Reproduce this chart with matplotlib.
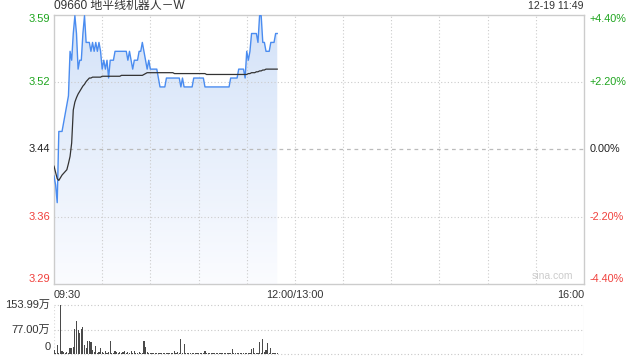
import matplotlib
matplotlib.use('Agg')
import matplotlib.pyplot as plt
import numpy as np
from matplotlib.colors import LinearSegmentedColormap
from matplotlib.transforms import blended_transform_factory

plt.rcParams['font.family'] = ['Liberation Sans', 'Noto Sans CJK SC', 'DejaVu Sans']

# data (one value per minute from 09:30)
title = '09660 地平线机器人－W'
stamp = '12-19 11:49'
prev_close = 3.44

price = [
    3.41, 3.40, 3.38, 3.46, 3.46, 3.46, 3.47, 3.48, 3.49, 3.50,
    3.55, 3.54, 3.57, 3.59, 3.57, 3.53, 3.54, 3.54, 3.57, 3.59,
    3.56, 3.56, 3.56, 3.55, 3.56, 3.55, 3.56, 3.55, 3.56, 3.55,
    3.53, 3.54, 3.53, 3.54, 3.52, 3.54, 3.54, 3.54, 3.55, 3.55,
    3.55, 3.55, 3.55, 3.55, 3.55, 3.55, 3.54, 3.55, 3.54, 3.53,
    3.54, 3.54, 3.54, 3.55, 3.55, 3.56, 3.55, 3.54, 3.53, 3.54,
    3.53, 3.53, 3.53, 3.53, 3.53, 3.52, 3.51, 3.51, 3.51, 3.51,
    3.52, 3.52, 3.52, 3.52, 3.52, 3.52, 3.52, 3.52, 3.52, 3.51,
    3.52, 3.51, 3.51, 3.51, 3.51, 3.51, 3.51, 3.52, 3.52, 3.52,
    3.52, 3.52, 3.52, 3.52, 3.51, 3.51, 3.51, 3.51, 3.51, 3.51,
    3.51, 3.51, 3.51, 3.51, 3.51, 3.51, 3.51, 3.51, 3.51, 3.51,
    3.52, 3.52, 3.52, 3.52, 3.52, 3.53, 3.53, 3.53, 3.53, 3.52,
    3.55, 3.54, 3.55, 3.57, 3.57, 3.57, 3.57, 3.56, 3.59, 3.59,
    3.56, 3.56, 3.55, 3.55, 3.55, 3.56, 3.56, 3.56, 3.57, 3.57,
]

avg_price = [
    3.421, 3.414, 3.407, 3.405, 3.408, 3.411, 3.413, 3.415, 3.417, 3.424,
    3.432, 3.447, 3.484, 3.493, 3.498, 3.502, 3.505, 3.508, 3.511, 3.513,
    3.516, 3.518, 3.520, 3.520, 3.521, 3.521, 3.521, 3.521, 3.521, 3.521,
    3.522, 3.522, 3.522, 3.522, 3.522, 3.522, 3.522, 3.522, 3.522, 3.522,
    3.522, 3.522, 3.523, 3.523, 3.523, 3.523, 3.523, 3.523, 3.523, 3.523,
    3.523, 3.523, 3.523, 3.523, 3.523, 3.523, 3.524, 3.525, 3.526, 3.526,
    3.526, 3.526, 3.526, 3.526, 3.526, 3.526, 3.526, 3.526, 3.526, 3.526,
    3.526, 3.526, 3.526, 3.526, 3.526, 3.525, 3.525, 3.525, 3.525, 3.525,
    3.525, 3.525, 3.525, 3.525, 3.525, 3.525, 3.525, 3.525, 3.525, 3.525,
    3.525, 3.525, 3.525, 3.525, 3.525, 3.524, 3.524, 3.524, 3.524, 3.524,
    3.524, 3.524, 3.524, 3.524, 3.524, 3.524, 3.524, 3.524, 3.524, 3.524,
    3.524, 3.524, 3.524, 3.524, 3.524, 3.524, 3.524, 3.524, 3.524, 3.524,
    3.524, 3.525, 3.525, 3.526, 3.526, 3.526, 3.527, 3.527, 3.528, 3.528,
    3.529, 3.529, 3.530, 3.530, 3.530, 3.530, 3.530, 3.530, 3.530, 3.530,
]

# volume in 万 shares
volume = [
    12, 3, 28, 4, 154, 9, 5, 2, 7, 2,
    20, 18, 23, 80, 104, 75, 65, 78, 86, 28,
    18, 41, 41, 39, 13, 5, 25, 4, 5, 20,
    6, 4, 8, 4, 6, 41, 4, 4, 8, 6,
    4, 6, 2, 6, 8, 2, 6, 2, 8, 4,
    8, 4, 2, 6, 4, 2, 41, 23, 6, 4,
    3, 2, 4, 2, 3, 2, 4, 3, 2, 3,
    2, 3, 2, 4, 2, 9, 3, 6, 2, 47,
    4, 31, 3, 2, 3, 2, 3, 2, 2, 3,
    2, 3, 2, 2, 9, 3, 2, 3, 2, 2,
    3, 2, 2, 3, 2, 2, 3, 2, 2, 3,
    2, 16, 2, 3, 2, 3, 2, 2, 3, 2,
    3, 2, 2, 16, 20, 2, 3, 3, 37, 3,
    47, 7, 12, 33, 3, 18, 3, 2, 2, 2,
]
vol_max = 153.99

pct_levels = [0.044, 0.022, 0.0, -0.022, -0.044]
price_labels = ['3.59', '3.52', '3.44', '3.36', '3.29']
pct_labels = ['+4.40%', '+2.20%', '0.00%', '-2.20%', '-4.40%']
x_labels = ['09:30', '12:00/13:00', '16:00']

total_minutes = 330
minutes = np.arange(len(price))
green = '#1ea51e'
red = '#f0403c'
label_colors = [green, green, '#222222', red, red]

fig = plt.figure(figsize=(6.4, 3.6), dpi=100)
ax = fig.add_axes([54 / 640, 76 / 360, 530 / 640, 269.5 / 360])
axv = fig.add_axes([54 / 640, 6 / 360, 530 / 640, 49 / 360])

ymin = prev_close * (1 - 0.044)
ymax = prev_close * (1 + 0.044)

# gradient fill under the price line
fill = ax.fill_between(minutes, price, ymin, color='none', lw=0)
cmap = LinearSegmentedColormap.from_list('g', ['#fbfcff', '#d3e2f8'])
grad = np.linspace(1, 0, 256).reshape(-1, 1)
im = ax.imshow(grad, extent=[0, len(price) - 1, ymin, ymax], aspect='auto',
               cmap=cmap, vmin=0, vmax=1, zorder=1)
im.set_clip_path(fill.get_paths()[0], transform=ax.transData)

ax.plot(minutes, price, color='#4a8cf0', lw=1.0, zorder=3)
ax.plot(minutes, avg_price, color='#333333', lw=0.9, zorder=4)

ax.set_xlim(0, total_minutes)
ax.set_ylim(ymin, ymax)

for m in range(30, total_minutes, 30):
    ax.axvline(m, color='#cccccc', lw=0.8, ls=(0, (1, 2)), zorder=2)
for p in [0.022, -0.022]:
    ax.axhline(prev_close * (1 + p), color='#cccccc', lw=0.8, ls=(0, (1, 2)), zorder=2)
ax.axhline(prev_close, color='#bbbbbb', lw=0.9, ls=(0, (3, 3)), zorder=2)

for s in ax.spines.values():
    s.set_color('#cccccc')
    s.set_linewidth(1)
ax.set_xticks([])
ax.set_yticks([])

# axis labels
tl = blended_transform_factory(ax.transAxes, ax.transData)
for p, lab, pl, c in zip(pct_levels, price_labels, pct_labels, label_colors):
    y = prev_close * (1 + p)
    va = 'center'
    if p == 0.044:
        va = 'top'
    elif p == -0.044:
        va = 'bottom'
    ax.text(-0.007, y, lab, transform=tl, ha='right', va=va, color=c, fontsize=8)
    ax.text(1.011, y, pl, transform=tl, ha='left', va=va, color=c, fontsize=7.8)

ax.text(0.0, 1.01, title, transform=ax.transAxes, ha='left', va='bottom',
        color='#333333', fontsize=8.6)
ax.text(1.0, 1.012, stamp, transform=ax.transAxes, ha='right', va='bottom',
        color='#333333', fontsize=7.6)
ax.text(0.0, -0.022, x_labels[0], transform=ax.transAxes, ha='left', va='top',
        color='#333333', fontsize=7.8)
ax.text(150 / total_minutes, -0.022, x_labels[1], transform=ax.transAxes,
        ha='center', va='top', color='#333333', fontsize=7.8)
ax.text(1.0, -0.022, x_labels[2], transform=ax.transAxes, ha='right', va='top',
        color='#333333', fontsize=7.8)
ax.text(0.94, 0.012, 'sina.com', transform=ax.transAxes, ha='center', va='bottom',
        color='#cccccc', fontsize=7.5)

# volume panel
axv.bar(minutes, volume, width=0.7, color='#4a4a4a', zorder=3)
axv.set_xlim(0, total_minutes)
axv.set_ylim(0, vol_max)
for v in [vol_max, vol_max / 2, 0]:
    axv.axhline(v, color='#c8c8c8', lw=0.8, ls=(0, (1, 2)), zorder=1, clip_on=False)
for s in axv.spines.values():
    s.set_visible(False)
axv.axvline(0, color='#d8d8d8', lw=0.8, ls=(0, (1, 2)))
axv.axvline(total_minutes, color='#d8d8d8', lw=0.8)
axv.set_xticks([])
axv.set_yticks([])
tv = blended_transform_factory(axv.transAxes, axv.transData)
axv.text(-0.007, vol_max, '153.99万', transform=tv, ha='right', va='center',
         color='#333333', fontsize=8)
axv.text(-0.007, vol_max / 2, '77.00万', transform=tv, ha='right', va='center',
         color='#333333', fontsize=8)
axv.text(-0.007, 6, '0', transform=tv, ha='right', va='bottom',
         color='#333333', fontsize=8)

fig.savefig('out.png', dpi=100)
